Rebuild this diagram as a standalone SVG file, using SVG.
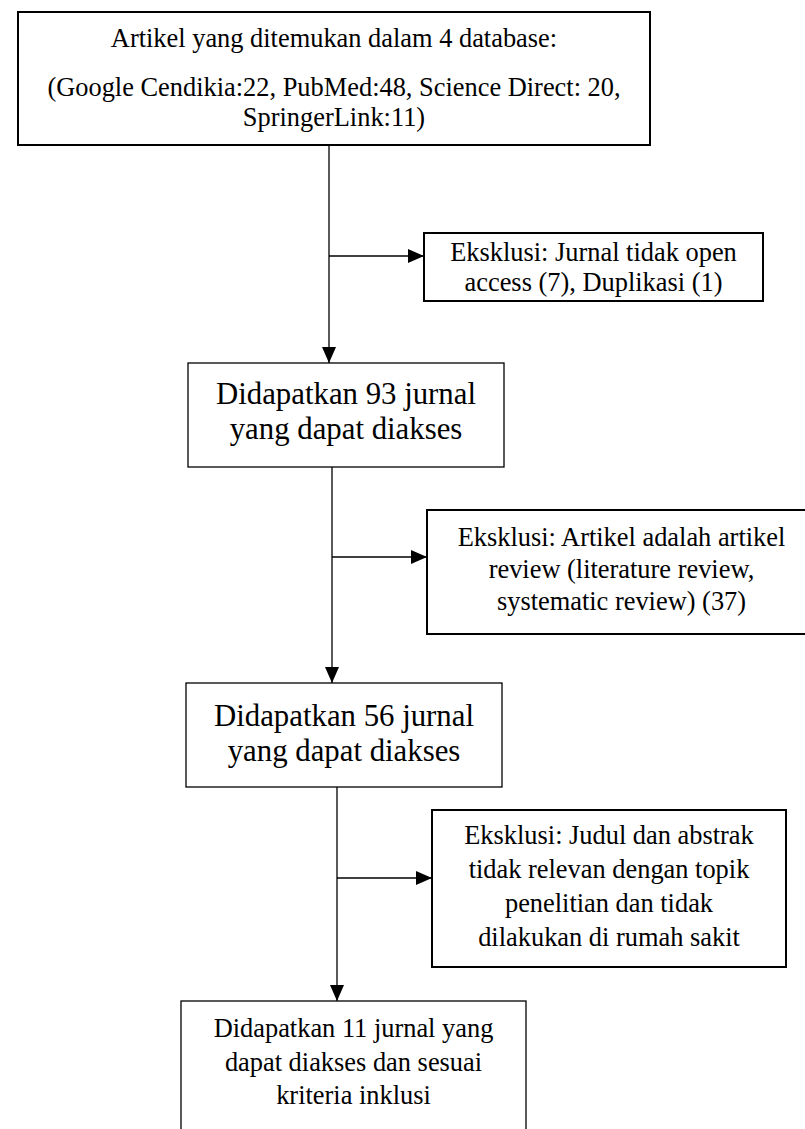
<svg xmlns="http://www.w3.org/2000/svg" width="805" height="1129" viewBox="0 0 805 1129">
<style>
.box{fill:#fff;stroke:#000;stroke-width:2}
.thin{stroke-width:1.3}
text{font-family:"Liberation Serif","Times New Roman",serif;fill:#000;text-anchor:middle}
.t12{font-size:26.4px}
.t14{font-size:30.8px}
.conn line{stroke:#000;stroke-width:1.3;fill:none}
</style>
<defs>
<marker id="arr" markerUnits="userSpaceOnUse" markerWidth="16" markerHeight="14" refX="16" refY="7" orient="auto">
<path d="M0,0 L16,7 L0,14 z" fill="#000"/>
</marker>
</defs>
<rect width="805" height="1129" fill="#fff"/>
<g id="connectors" class="conn">
<line x1="329" y1="145" x2="329" y2="363" marker-end="url(#arr)"/>
<line x1="329" y1="256" x2="424" y2="256" marker-end="url(#arr)"/>
<line x1="332" y1="467" x2="332" y2="683" marker-end="url(#arr)"/>
<line x1="332" y1="557" x2="427" y2="557" marker-end="url(#arr)"/>
<line x1="337" y1="787" x2="337" y2="1001" marker-end="url(#arr)"/>
<line x1="337" y1="878" x2="432" y2="878" marker-end="url(#arr)"/>
</g>
<g id="node-artikel">
<rect class="box" x="18" y="12" width="632" height="133"/>
<text class="t12" x="334" y="47">Artikel yang ditemukan dalam 4 database:</text>
<text class="t12" x="334" y="96">(Google Cendikia:22, PubMed:48, Science Direct: 20,</text>
<text class="t12" x="334" y="126">SpringerLink:11)</text>
</g>
<g id="node-eksklusi1">
<rect class="box" x="424" y="233" width="339" height="68"/>
<text class="t12" x="593.5" y="261">Eksklusi: Jurnal tidak open</text>
<text class="t12" x="593.5" y="291">access (7), Duplikasi (1)</text>
</g>
<g id="node-93">
<rect class="box thin" x="188" y="363" width="316" height="104"/>
<text class="t14" x="346" y="404">Didapatkan 93 jurnal</text>
<text class="t14" x="346" y="439">yang dapat diakses</text>
</g>
<g id="node-eksklusi2">
<rect class="box" x="427" y="510" width="389" height="124"/>
<text class="t12" x="621.5" y="546">Eksklusi: Artikel adalah artikel</text>
<text class="t12" x="621.5" y="578">review (literature review,</text>
<text class="t12" x="621.5" y="610">systematic review) (37)</text>
</g>
<g id="node-56">
<rect class="box thin" x="186" y="683" width="316" height="104"/>
<text class="t14" x="344" y="726">Didapatkan 56 jurnal</text>
<text class="t14" x="344" y="761">yang dapat diakses</text>
</g>
<g id="node-eksklusi3">
<rect class="box" x="432" y="810" width="354" height="157"/>
<text class="t12" x="609" y="844">Eksklusi: Judul dan abstrak</text>
<text class="t12" x="609" y="878">tidak relevan dengan topik</text>
<text class="t12" x="609" y="912">penelitian dan tidak</text>
<text class="t12" x="609" y="946">dilakukan di rumah sakit</text>
</g>
<g id="node-11">
<rect class="box thin" x="181" y="1001" width="345" height="140"/>
<text class="t12" x="353.5" y="1037">Didapatkan 11 jurnal yang</text>
<text class="t12" x="353.5" y="1071">dapat diakses dan sesuai</text>
<text class="t12" x="353.5" y="1104">kriteria inklusi</text>
</g>
</svg>
